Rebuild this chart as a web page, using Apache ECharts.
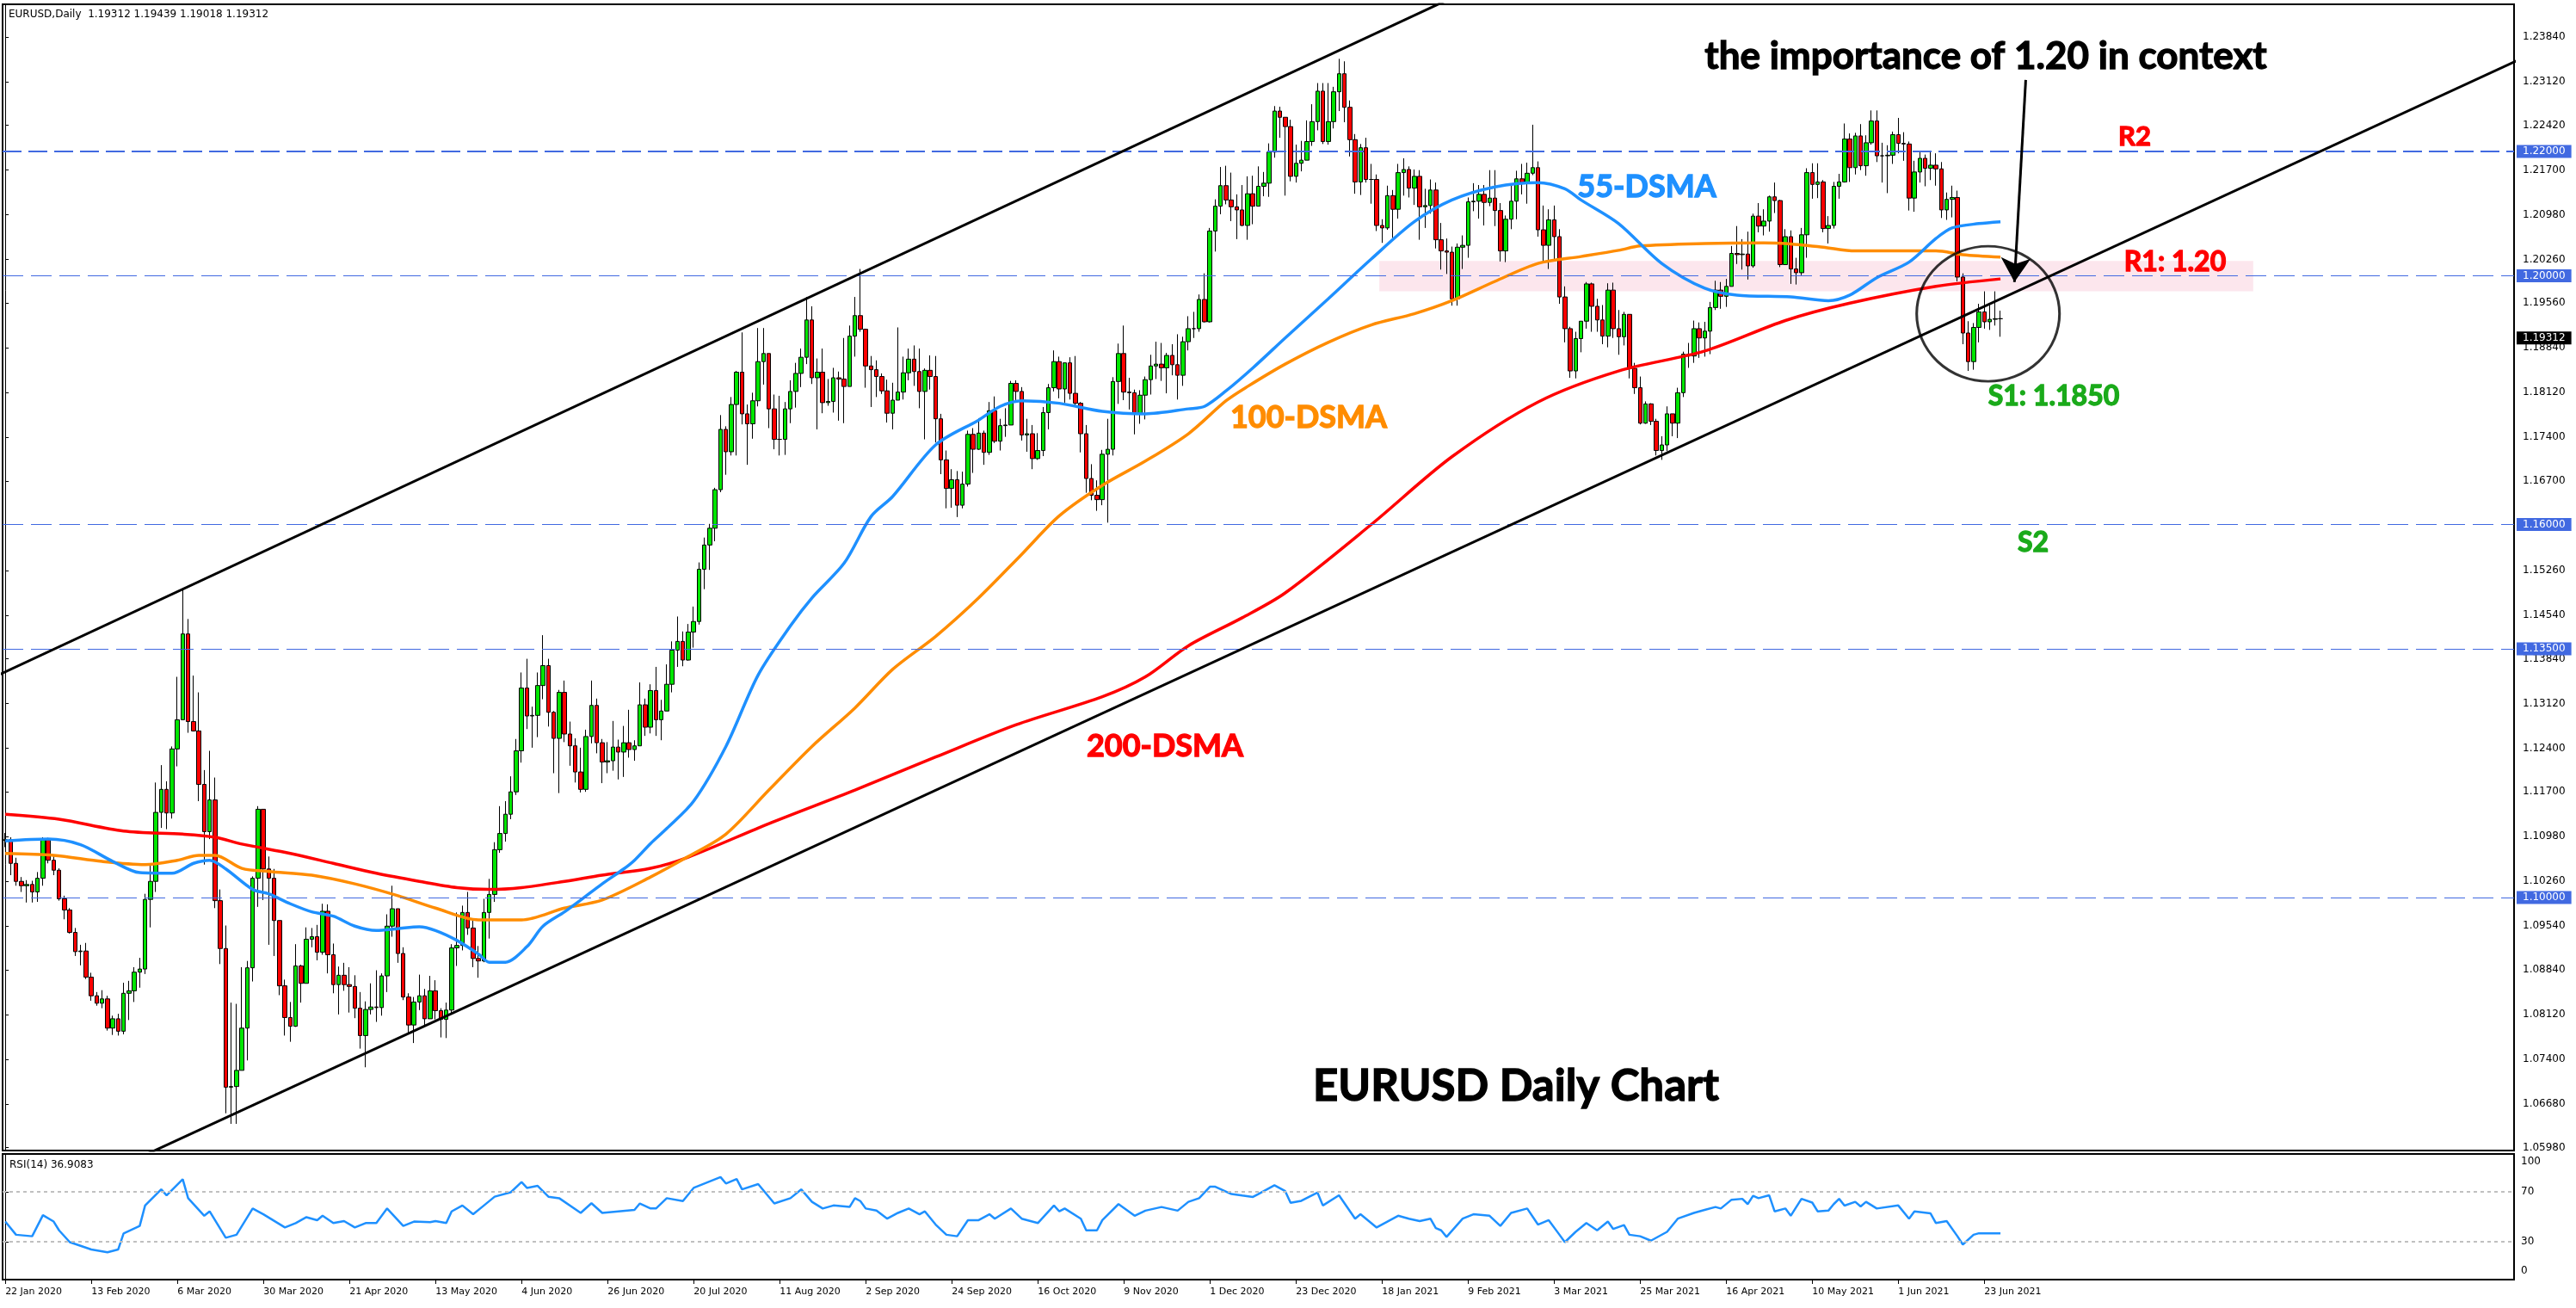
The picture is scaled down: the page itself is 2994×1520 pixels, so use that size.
<!DOCTYPE html>
<html>
<head>
<meta charset="utf-8">
<script src="https://cdn.jsdelivr.net/npm/echarts@6/dist/echarts.min.js"></script>
<style>html,body{margin:0;padding:0;background:#fff}#chart{width:2994px;height:1520px}</style>
</head>
<body>
<div id="chart"></div>
<script>
// ---------- categories ----------
const startDate = '2020-01-22';
const skipDates = ['2020-12-25', '2021-01-01'];
const emptyBars = 95;
const monthNames = ['Jan','Feb','Mar','Apr','May','Jun','Jul','Aug','Sep','Oct','Nov','Dec'];

// ---------- daily OHLC (pips, /10000) ----------
const opens = [
11092,11093,11055,11026,11019,11021,11009,11031,
11093,11060,11044,10998,10980,10944,10913,10914,10872,10842,10830,10837,10790,10805,10785,10846,10850,10880,10885,10997,
11026,11137,11174,11136,11239,11286,11424,11283,11268,11182,11106,11157,10995,10918,10695,10696,10722,10790,10887,11031,11142,11046,
11031,10963,10858,10807,10793,10890,10862,10933,10937,10912,10978,10908,10860,10875,10860,10857,10822,10778,10820,10824,10823,10874,
10954,10982,10910,10840,10795,10832,10842,10805,10850,10818,10804,10819,10919,10923,10976,10951,10902,10898,10976,11005,11077,
11103,11134,11170,11236,11337,11292,11293,11341,11373,11298,11256,11330,11263,11244,11202,11174,11259,11309,11249,11218,11220,11242,
11234,11249,11238,11244,11310,11274,11333,11286,11300,11343,11398,11412,11382,11427,11444,11528,11567,11594,11656,11753,11717,11793,11845,
11778,11762,11799,11862,11875,11786,11737,11737,11786,11814,11843,11869,11929,11836,11845,11796,11798,11836,11834,11822,11903,
11936,11914,11855,11849,11838,11815,11779,11800,11813,11844,11866,11846,11814,11848,11838,11770,11704,11658,11672,11631,11665,11745,
11721,11747,11716,11783,11734,11759,11760,11827,11814,11744,11746,11706,11719,11780,11820,11862,11818,11860,11811,11795,11746,11674,
11647,11640,11713,11721,11830,11875,11813,11812,11779,11808,11833,11855,11858,11852,11872,11857,11840,11894,11915,11915,11962,
11926,12072,12112,12145,12122,12111,12106,12081,12132,12112,12144,12149,12199,12265,12255,12240,12160,12181,12186,12216,12248,12297,
12216,12248,12296,12325,12271,12219,12151,12206,12155,12155,12081,12077,12129,12107,12166,12171,12141,12160,12111,12113,
12138,12058,12040,12038,11963,12046,12049,12119,12120,12131,12118,12125,12105,12040,12091,12120,12156,12150,12165,12174,
12074,12049,12090,12063,11966,11915,11847,11899,11927,11987,11951,11929,11903,11977,11915,11902,11938,11851,11820,11763,11794,11766,11719,
11728,11778,11763,11812,11874,11871,11915,11900,11911,11949,11977,11967,11983,12036,12034,12035,12016,12096,12080,12088,12127,12121,
12018,12063,12011,12005,12066,12166,12147,12151,12076,12081,12144,12151,12220,12174,12225,12177,12214,12249,12193,12193,12194,
12227,12213,12212,12125,12167,12189,12173,12178,12172,12106,12123,12126,11998,11908,11862,11917,11942,11926,11930,11931
];
const highs = [
11104,11097,11064,11033,11028,11027,11041,11097,
11096,11069,11047,11003,10983,10951,10924,10927,10879,10848,10851,10842,10810,10813,10863,10866,10888,10903,11006,11054,
11185,11213,11187,11243,11355,11496,11448,11357,11330,11205,11236,11193,11013,10955,10831,10829,10888,10898,11034,11147,11107,11066,
11046,10959,10868,10832,10925,10892,10952,10951,10956,10990,10989,10926,10889,10895,10888,10875,10848,10833,10862,10883,10878,10973,
11019,10978,10920,10846,10840,10876,10853,10874,10867,10822,10831,10925,10976,10987,11009,10965,10922,10998,11030,11089,11147,
11155,11195,11255,11362,11384,11307,11362,11422,11384,11300,11334,11349,11283,11256,11241,11270,11349,11320,11255,11250,11284,11254,
11276,11302,11253,11346,11320,11343,11371,11318,11375,11412,11452,11428,11440,11468,11539,11579,11601,11659,11776,11758,11805,11847,11909,
11793,11812,11916,11916,11869,11809,11807,11797,11832,11860,11883,11966,11951,11867,11883,11834,11852,11846,11900,11920,11966,
12011,11915,11871,11864,11843,11833,11828,11917,11870,11883,11888,11883,11851,11872,11871,11778,11719,11689,11686,11685,11751,11755,
11771,11751,11797,11806,11770,11787,11831,11832,11821,11770,11760,11747,11789,11826,11880,11870,11860,11869,11871,11797,11760,11697,
11671,11720,11770,11837,11891,11920,11836,11817,11816,11838,11873,11894,11892,11876,11890,11906,11902,11935,11942,11970,12004,
12077,12123,12175,12177,12166,12131,12146,12160,12161,12176,12167,12213,12273,12272,12254,12251,12211,12217,12250,12276,12310,12310,
12310,12304,12349,12345,12282,12228,12212,12222,12180,12163,12091,12145,12138,12180,12189,12176,12171,12170,12140,12155,
12150,12085,12060,12047,12052,12065,12126,12149,12146,12146,12170,12170,12117,12097,12145,12169,12180,12182,12243,12184,
12113,12107,12113,12075,11983,11918,11910,11927,11990,11989,11963,11953,11988,11989,11945,11942,11935,11860,11838,11798,11795,11770,11742,
11790,11778,11820,11878,11892,11928,11925,11926,11958,11992,11990,11995,12048,12080,12059,12071,12100,12117,12107,12129,12150,12122,
12075,12073,12029,12077,12173,12181,12181,12154,12096,12151,12164,12245,12229,12230,12244,12226,12266,12266,12214,12210,12232,
12254,12231,12216,12185,12200,12195,12201,12197,12183,12134,12145,12137,12004,11927,11924,11955,11975,11953,11975,11944
];
const lows = [
11081,11036,11019,11009,10992,10992,10993,11019,
11055,11036,10995,10965,10942,10906,10891,10869,10834,10826,10822,10786,10779,10778,10780,10803,10832,10855,10877,10952,
11009,11112,11110,11127,11211,11287,11265,11267,11155,11053,11094,10983,10893,10653,10636,10636,10740,10738,10865,10985,10996,10924,
10906,10843,10778,10768,10792,10831,10863,10920,10899,10908,10878,10846,10812,10850,10815,10806,10757,10727,10812,10800,10810,10848,
10937,10895,10835,10782,10766,10819,10795,10806,10804,10775,10774,10814,10890,10915,10940,10888,10871,10896,10934,10993,11072,
11090,11126,11165,11217,11271,11241,11258,11319,11275,11200,11168,11250,11212,11185,11169,11170,11248,11232,11184,11200,11204,11190,
11194,11225,11220,11249,11260,11264,11260,11253,11302,11330,11371,11372,11381,11402,11439,11496,11527,11573,11652,11680,11711,11711,11761,
11696,11738,11790,11825,11755,11721,11711,11712,11763,11788,11821,11858,11826,11753,11779,11791,11780,11767,11763,11822,11870,
11910,11820,11789,11805,11810,11764,11753,11802,11801,11832,11823,11787,11737,11817,11732,11681,11626,11627,11612,11626,11661,11683,
11720,11696,11712,11731,11719,11741,11760,11800,11735,11717,11689,11704,11710,11753,11814,11803,11796,11801,11789,11716,11651,11639,
11622,11631,11603,11711,11794,11800,11785,11745,11762,11769,11809,11834,11831,11811,11840,11801,11823,11880,11900,11910,11925,
11925,12039,12099,12115,12088,12059,12080,12058,12083,12117,12128,12127,12190,12222,12129,12152,12150,12168,12186,12209,12234,12212,
12211,12237,12265,12247,12192,12132,12130,12150,12116,12072,12053,12074,12061,12092,12129,12126,12114,12058,12077,12100,
12044,12010,12003,11952,11952,12011,12029,12104,12092,12081,12112,12080,12023,12022,12075,12091,12131,12116,12162,12063,
12023,12011,12026,11955,11893,11836,11835,11877,11915,11910,11910,11890,11885,11900,11873,11888,11835,11810,11761,11762,11760,11711,11704,
11718,11742,11739,11805,11852,11860,11868,11870,11874,11945,11947,11950,11983,12019,12010,11994,12013,12070,12065,12071,12101,12014,
12021,11987,11986,12001,12029,12124,12125,12070,12052,12076,12124,12150,12151,12163,12170,12161,12211,12183,12150,12133,12180,
12197,12185,12105,12103,12150,12144,12154,12145,12093,12090,12094,11991,11890,11847,11849,11893,11915,11913,11920,11902
];
const closes = [
11093,11055,11026,11019,11021,11009,11031,11093,
11060,11044,10998,10980,10944,10913,10914,10872,10842,10830,10837,10790,10805,10785,10846,10850,10880,10885,10997,11026,
11137,11174,11136,11239,11286,11424,11283,11268,11182,11106,11157,10995,10918,10695,10696,10722,10790,10887,11031,11142,11046,11031,
10963,10858,10807,10793,10890,10862,10933,10937,10912,10978,10908,10860,10875,10860,10857,10822,10778,10820,10824,10823,10874,10954,
10982,10910,10840,10795,10832,10842,10805,10850,10818,10804,10819,10919,10923,10976,10951,10902,10898,10976,11005,11077,11103,
11134,11170,11236,11337,11292,11293,11341,11373,11298,11256,11330,11263,11244,11202,11174,11259,11309,11249,11218,11220,11242,11234,
11249,11238,11244,11310,11274,11333,11286,11300,11343,11398,11412,11382,11427,11444,11528,11567,11594,11656,11753,11717,11793,11845,11778,
11762,11799,11862,11875,11786,11737,11737,11786,11814,11843,11869,11929,11836,11845,11796,11798,11836,11834,11822,11903,11936,
11914,11855,11849,11838,11815,11779,11800,11813,11844,11866,11846,11814,11848,11838,11770,11704,11658,11672,11631,11665,11745,11721,
11747,11716,11783,11734,11759,11760,11827,11814,11744,11746,11706,11719,11780,11820,11862,11818,11860,11811,11795,11746,11674,11647,
11640,11713,11721,11830,11875,11813,11812,11779,11808,11833,11855,11858,11852,11872,11857,11840,11894,11915,11915,11962,11926,
12072,12112,12145,12122,12111,12106,12081,12132,12112,12144,12149,12199,12265,12255,12240,12160,12181,12186,12216,12248,12297,12216,
12248,12296,12325,12271,12219,12151,12206,12155,12155,12081,12077,12129,12107,12166,12171,12141,12160,12111,12113,12138,
12058,12040,12038,11963,12046,12049,12119,12120,12131,12118,12125,12105,12040,12091,12120,12156,12150,12165,12174,12074,
12049,12090,12063,11966,11915,11847,11899,11927,11987,11951,11929,11903,11977,11915,11902,11938,11851,11820,11763,11794,11766,11719,11728,
11778,11763,11812,11874,11871,11915,11900,11911,11949,11977,11967,11983,12036,12034,12035,12016,12096,12080,12088,12127,12121,12018,
12063,12011,12005,12066,12166,12147,12151,12076,12081,12144,12151,12220,12174,12225,12177,12214,12249,12193,12193,12194,12227,
12213,12212,12125,12167,12189,12173,12178,12172,12106,12123,12126,11998,11908,11862,11917,11942,11926,11930,11931,11931
];

// ---------- moving averages: [bar index, price] ----------
const sma55 = [[0,1.1091],[8,1.1094],[14,1.1085],[20,1.1058],[25,1.1040],[31,1.1039],[35,1.1055],[38,1.1060],[41,1.1046],[46,1.1013],[49,1.1006],[53,1.0990],[57,1.0977],[61,1.0970],[65,1.0954],[69,1.0947],[73,1.0950],[77,1.0953],[80,1.0947],[84,1.0931],[88,1.0909],[90,1.0896],[93,1.0896],[97,1.0921],[100,1.0954],[104,1.0977],[107,1.0996],[111,1.1022],[115,1.1046],[117,1.1060],[120,1.1087],[123,1.1111],[128,1.1155],[134,1.1243],[140,1.1358],[146,1.1437],[150,1.1482],[156,1.1538],[161,1.1613],[165,1.1645],[173,1.1728],[181,1.1768],[185,1.1790],[189,1.1799],[196,1.1795],[204,1.1782],[212,1.1778],[220,1.1786],[223,1.1790],[227,1.1815],[232,1.1852],[238,1.1900],[246,1.1963],[254,1.2027],[262,1.2087],[269,1.2122],[277,1.2143],[285,1.2150],[290,1.2140],[293,1.2122],[300,1.2084],[308,1.2020],[316,1.1980],[322,1.1969],[332,1.1966],[339,1.1960],[343,1.1969],[348,1.1997],[354,1.2022],[359,1.2060],[362,1.2077],[367,1.2084],[371,1.2087]];
const sma100 = [[0,1.1071],[9,1.1068],[18,1.1058],[26,1.1053],[32,1.1060],[36,1.1068],[39,1.1068],[44,1.1047],[49,1.1042],[57,1.1036],[65,1.1022],[73,1.1003],[80,1.0983],[88,1.0964],[96,1.0964],[104,1.0983],[111,1.0996],[120,1.1033],[127,1.1066],[134,1.1102],[142,1.1173],[150,1.1243],[158,1.1305],[165,1.1367],[173,1.1420],[181,1.1482],[189,1.1552],[196,1.1614],[204,1.1663],[212,1.1702],[220,1.1746],[227,1.1799],[231,1.1822],[238,1.1858],[246,1.1893],[254,1.1921],[262,1.1939],[269,1.1960],[277,1.1991],[285,1.2020],[293,1.2031],[300,1.2041],[304,1.2048],[316,1.2052],[327,1.2053],[331,1.2052],[338,1.2046],[344,1.2040],[348,1.2040],[359,1.2040],[364,1.2034],[371,1.2030]];
const sma200 = [[0,1.1134],[10,1.1126],[22,1.1107],[33,1.1102],[39,1.1097],[44,1.1086],[53,1.1071],[61,1.1055],[69,1.1039],[77,1.1026],[84,1.1016],[90,1.1013],[96,1.1016],[104,1.1026],[111,1.1036],[120,1.1047],[127,1.1065],[142,1.1119],[158,1.1173],[173,1.1226],[188,1.1278],[204,1.1323],[212,1.1355],[220,1.1405],[230,1.1450],[238,1.1490],[254,1.1600],[269,1.1709],[285,1.1797],[300,1.1847],[316,1.1879],[331,1.1928],[343,1.1956],[359,1.1983],[371,1.1995]];

// ---------- RSI(14): [bar index, value] ----------
const rsi14 = [[0,46.2],[2,35.7],[5,34.5],[7,51.3],[9,46.2],[10,39.2],[12,29.8],[16,24.0],[19,21.7],[21,24.0],[22,36.8],[25,42.7],[26,59.0],[29,71.8],[30,67.1],[33,79.9],[34,64.8],[37,50.8],[38,54.3],[41,33.3],[43,35.7],[46,56.6],[48,52.0],[52,41.5],[54,45.0],[56,49.7],[58,47.3],[59,50.8],[61,45.0],[63,46.6],[65,41.5],[67,45.0],[69,45.0],[71,56.6],[74,42.7],[76,46.2],[79,45.7],[80,46.6],[82,45.0],[83,54.3],[85,59.0],[87,52.0],[89,59.0],[91,66.0],[94,69.5],[96,77.6],[97,73.0],[99,74.6],[101,66.0],[103,64.8],[107,53.1],[109,60.8],[111,53.1],[117,55.5],[118,60.6],[120,56.6],[121,56.6],[123,64.8],[126,62.5],[128,73.0],[133,81.6],[134,76.5],[136,80.0],[137,71.8],[140,76.0],[143,60.6],[146,64.8],[148,71.8],[150,61.9],[152,56.6],[154,59.0],[157,57.8],[158,64.8],[159,62.5],[160,56.6],[162,54.9],[164,48.5],[166,53.1],[168,56.6],[170,52.0],[171,54.3],[173,43.8],[175,35.7],[177,34.5],[179,47.3],[181,47.3],[183,52.0],[184,48.5],[187,56.6],[189,48.5],[192,45.0],[195,59.0],[196,54.3],[197,56.6],[200,48.5],[201,39.2],[203,39.2],[204,47.3],[207,60.1],[210,50.8],[212,54.9],[215,57.8],[218,54.9],[220,61.9],[222,64.8],[224,73.9],[225,73.9],[228,68.1],[230,66.9],[232,65.8],[233,68.1],[236,75.1],[238,70.4],[239,61.1],[241,62.7],[244,69.3],[245,59.0],[248,67.1],[251,48.5],[252,52.0],[255,41.5],[257,46.2],[259,50.8],[261,48.5],[263,46.6],[265,48.5],[266,41.0],[267,39.2],[268,34.0],[271,48.5],[273,52.0],[276,50.8],[278,42.7],[280,53.1],[283,56.6],[285,43.8],[287,47.3],[289,35.7],[290,29.8],[292,38.0],[294,45.0],[296,39.2],[298,46.2],[299,40.3],[301,43.4],[302,35.7],[304,34.5],[306,31.0],[309,38.0],[311,48.5],[314,53.1],[316,55.5],[318,57.8],[319,56.6],[321,63.6],[323,64.3],[324,60.1],[325,66.7],[326,64.8],[328,67.1],[329,54.3],[331,56.6],[332,50.8],[334,64.3],[336,61.3],[337,54.3],[339,54.9],[340,60.1],[341,64.3],[342,58.9],[344,61.9],[345,58.2],[346,61.9],[348,56.6],[352,59.0],[354,48.5],[355,54.3],[358,52.7],[359,45.0],[361,46.6],[363,34.5],[364,27.9],[366,35.7],[367,36.9],[371,36.9]];

// ---------- drawn objects (data coordinates: [bar index, price]) ----------
const upperChannel = [[-1, 1.1359], [300, 1.2572]];
const lowerChannel = [[20, 1.0562], [470, 1.2358]];
const levels = [1.22, 1.20, 1.16, 1.135, 1.10];
const currentPrice = 1.19312;
const zone = [[255.5, 1.2024], [418, 1.1975]];
const circleCenter = [368.7, 1.1939];
const arrowLine = [[375.7, 1.2315], [373.6, 1.1990]];

// ---------- axis ticks ----------
const priceTicks = [1.2384,1.2312,1.2242,1.2170,1.2098,1.2026,1.1956,1.1884,1.1812,1.1740,1.1670,1.1526,1.1454,1.1384,1.1312,1.1240,1.1170,1.1098,1.1026,1.0954,1.0884,1.0812,1.0740,1.0668,1.0598];
const rsiTicks = [0, 30, 70, 100];
const labelEvery = 16;

// ---------- build ----------
function buildDates(n) {
  const out = [];
  const d = new Date(startDate + 'T12:00:00Z');
  while (out.length < n) {
    const wd = d.getUTCDay();
    const iso = d.toISOString().slice(0, 10);
    if (wd !== 0 && wd !== 6 && skipDates.indexOf(iso) < 0) {
      out.push(d.getUTCDate() + ' ' + monthNames[d.getUTCMonth()] + ' ' + d.getUTCFullYear());
    }
    d.setUTCDate(d.getUTCDate() + 1);
  }
  return out;
}
const dates = buildDates(closes.length);
const categories = dates.slice();
for (let k = 0; k < emptyBars; k++) categories.push('f' + k);
const nCat = categories.length;

const candles = closes.map((c, i) => {
  const o = opens[i], h = Math.max(highs[i], o, c), l = Math.min(lows[i], o, c);
  return [o / 1e4, c / 1e4, l / 1e4, h / 1e4];
});

const tickFn = (idx) => idx % labelEvery === 0 && idx < dates.length;

const chart = echarts.init(document.getElementById('chart'), null, {renderer: 'canvas'});
const axisFont = 'DejaVu Sans';
const blue = '#4169e1';

const levelData = levels.map((v) => ({
  yAxis: v,
  lineStyle: {color: blue, width: v === 1.22 ? 2 : 1, type: v === 1.22 ? [22, 8] : [24, 9]},
  label: {show: true, position: 'end', distance: 3, formatter: () => v.toFixed(5),
    backgroundColor: blue, color: '#fff', fontSize: 12, fontFamily: axisFont, padding: [2, 7, 1, 7]}
}));
levelData.push({
  yAxis: currentPrice,
  lineStyle: {color: 'rgba(0,0,0,0)', width: 0},
  label: {show: true, position: 'end', distance: 3, formatter: () => currentPrice.toFixed(5),
    backgroundColor: '#000', color: '#fff', fontSize: 12, fontFamily: axisFont, padding: [2, 7, 1, 7]}
});

const annFont = 'Lato';
function ann(text, x, y, size, color) {
  return {type: 'text', x: x, y: y, z: 100, style: {text: text, fill: color, stroke: color, lineWidth: 1.3,
    font: 'bold ' + size + 'px ' + annFont, align: 'center', verticalAlign: 'middle'}};
}

const option = {
  animation: false,
  backgroundColor: '#fff',
  grid: [
    {left: 3, right: 72, top: 5, height: 1332, show: true, borderColor: '#000', borderWidth: 2, backgroundColor: '#fff'},
    {left: 3, right: 72, top: 1341, height: 146, show: true, borderColor: '#000', borderWidth: 2, backgroundColor: '#fff'}
  ],
  xAxis: [
    {type: 'category', gridIndex: 0, data: categories, boundaryGap: true, show: false},
    {type: 'category', gridIndex: 1, data: categories, boundaryGap: true,
      axisLine: {show: false},
      axisTick: {show: true, interval: tickFn, alignWithLabel: true, length: 5, lineStyle: {color: '#000'}},
      axisLabel: {interval: tickFn, align: 'left', fontSize: 11, color: '#000', fontFamily: axisFont, margin: 9},
      splitLine: {show: false}},
    {type: 'value', gridIndex: 0, min: -0.5, max: nCat - 0.5, show: false},
    {type: 'value', gridIndex: 1, min: -0.5, max: nCat - 0.5, show: false}
  ],
  yAxis: [
    {type: 'value', gridIndex: 0, position: 'right', min: 1.05931, max: 1.24367,
      axisLine: {show: true, lineStyle: {color: '#000', width: 1}},
      axisTick: {show: true, customValues: priceTicks, length: 4, lineStyle: {color: '#000'}},
      axisLabel: {customValues: priceTicks, formatter: (v) => v.toFixed(5), fontSize: 12, fontFamily: axisFont, color: '#000', margin: 10},
      splitLine: {show: false}},
    {type: 'value', gridIndex: 1, position: 'right', min: 0, max: 100,
      axisLine: {show: true, lineStyle: {color: '#000', width: 1}},
      axisTick: {show: true, customValues: rsiTicks, length: 4, lineStyle: {color: '#000'}},
      axisLabel: {customValues: rsiTicks, fontSize: 12, fontFamily: axisFont, color: '#000', margin: 8,
        formatter: (v) => v === 100 ? '{t|100}' : (v === 0 ? '{b|0}' : String(v)),
        rich: {t: {padding: [18, 0, 0, 0], fontSize: 12, fontFamily: axisFont, color: '#000'},
               b: {padding: [0, 0, 20, 0], fontSize: 12, fontFamily: axisFont, color: '#000'}}},
      splitLine: {show: false}}
  ],
  series: [
    {type: 'line', name: 'zone', xAxisIndex: 2, yAxisIndex: 0, data: [], z: 1, silent: true,
      markArea: {silent: true, itemStyle: {color: 'rgba(251,226,234,0.85)'},
        data: [[{xAxis: zone[0][0], yAxis: zone[0][1]}, {xAxis: zone[1][0], yAxis: zone[1][1]}]]}},
    {type: 'candlestick', name: 'EURUSD', xAxisIndex: 0, yAxisIndex: 0, z: 3, barWidth: 5, data: candles,
      itemStyle: {color: '#00e600', color0: '#ff0000', borderColor: '#000', borderColor0: '#000', borderWidth: 1},
      markLine: {silent: true, symbol: ['none', 'none'], data: levelData}},
    {type: 'line', name: '200-DSMA', xAxisIndex: 2, yAxisIndex: 0, data: sma200, symbol: 'none', smooth: 0.3, z: 4,
      lineStyle: {color: '#ff0000', width: 3.5}},
    {type: 'line', name: '100-DSMA', xAxisIndex: 2, yAxisIndex: 0, data: sma100, symbol: 'none', smooth: 0.3, z: 4,
      lineStyle: {color: '#ff8c00', width: 3.5}},
    {type: 'line', name: '55-DSMA', xAxisIndex: 2, yAxisIndex: 0, data: sma55, symbol: 'none', smooth: 0.3, z: 4,
      lineStyle: {color: '#1e90ff', width: 3.5}},
    {type: 'line', name: 'upper', xAxisIndex: 2, yAxisIndex: 0, data: upperChannel, symbol: 'none', clip: true, z: 5,
      lineStyle: {color: '#000', width: 3}},
    {type: 'line', name: 'lower', xAxisIndex: 2, yAxisIndex: 0, data: lowerChannel, symbol: 'none', clip: true, z: 5,
      lineStyle: {color: '#000', width: 3}},
    {type: 'scatter', name: 'circle', xAxisIndex: 2, yAxisIndex: 0, data: [circleCenter], symbol: 'circle', symbolSize: [166, 157], z: 6,
      itemStyle: {color: 'rgba(0,0,0,0)', borderColor: '#000', borderWidth: 3},
      markLine: {silent: true, symbol: ['none', 'arrow'], symbolSize: [26, 28],
        lineStyle: {color: '#000', width: 3, type: 'solid'}, label: {show: false},
        data: [[{coord: arrowLine[0]}, {coord: arrowLine[1]}]]}},
    {type: 'line', name: 'RSI', xAxisIndex: 3, yAxisIndex: 1, data: rsi14, symbol: 'none', z: 4,
      lineStyle: {color: '#1e90ff', width: 2.5},
      markLine: {silent: true, symbol: ['none', 'none'], label: {show: false},
        lineStyle: {color: '#c0c0c0', width: 2, type: [4, 4]},
        data: [{yAxis: 70}, {yAxis: 30}]}}
  ],
  graphic: [
    {type: 'text', left: 10, top: 11, z: 100, style: {text: 'EURUSD,Daily  1.19312 1.19439 1.19018 1.19312', fill: '#000', font: '12px "DejaVu Sans"'}},
    {type: 'text', left: 11, top: 1348, z: 100, style: {text: 'RSI(14) 36.9083', fill: '#000', font: '12px "DejaVu Sans"'}},
    ann('the importance of 1.20 in context', 2308, 66, 44, '#000'),
    ann('R2', 2481, 159, 31, '#ff0000'),
    ann('R1: 1.20', 2528, 305, 32, '#ff0000'),
    ann('S1: 1.1850', 2387, 461, 32, '#1aaa1a'),
    ann('S2', 2363, 631, 32, '#1aaa1a'),
    ann('55-DSMA', 1914, 217, 36, '#1e90ff'),
    ann('100-DSMA', 1521, 485, 36, '#ff8c00'),
    ann('200-DSMA', 1354, 867, 36, '#ff0000'),
    ann('EURUSD Daily Chart', 1762, 1263, 51, '#000')
  ]
};
chart.setOption(option);
</script>
</body>
</html>
